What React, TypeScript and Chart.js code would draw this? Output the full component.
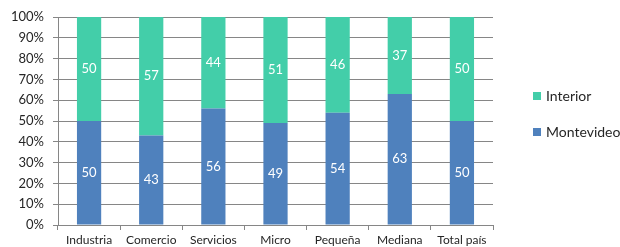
import React, { useEffect, useRef } from "react";
import { Chart, registerables } from "chart.js";

Chart.register(...registerables);

const categories = ["Industria", "Comercio", "Servicios", "Micro", "Pequeña", "Mediana", "Total país"];
const montevideo = [50, 43, 56, 49, 54, 63, 50];
const interior = [50, 57, 44, 51, 46, 37, 50];
const seriesNames = ["Montevideo", "Interior"];
const blue = "#4F81BD";
const green = "#43CEA9";
const FONT = "Lato, 'Open Sans', sans-serif";

const valueLabels = {
  id: "valueLabels",
  afterDatasetsDraw(chart: any) {
    const ctx = chart.ctx;
    ctx.save();
    ctx.fillStyle = "#ffffff";
    ctx.font = `13px ${FONT}`;
    ctx.textAlign = "center";
    ctx.textBaseline = "middle";
    chart.data.datasets.forEach((ds: any, di: number) => {
      const meta = chart.getDatasetMeta(di);
      meta.data.forEach((el: any, i: number) => {
        const p = el.getCenterPoint();
        ctx.fillText(String(ds.data[i]), p.x, p.y);
      });
    });
    ctx.restore();
  },
};

const customLegend = {
  id: "customLegend",
  afterDraw(chart: any) {
    const ctx = chart.ctx;
    const area = chart.chartArea;
    ctx.save();
    ctx.font = `14px ${FONT}`;
    ctx.textAlign = "left";
    ctx.textBaseline = "middle";
    const items = [...chart.data.datasets].reverse();
    const x0 = area.right + 40;
    const yMid = (area.top + area.bottom) / 2;
    const gap = 36;
    items.forEach((ds: any, k: number) => {
      const y = yMid - gap / 2 + k * gap - 7;
      ctx.fillStyle = ds.backgroundColor;
      ctx.fillRect(x0, y - 4, 8, 8);
      ctx.fillStyle = "#262626";
      ctx.fillText(ds.label, x0 + 13, y);
    });
    ctx.restore();
  },
};

export default function App() {
  const ref = useRef<HTMLCanvasElement>(null);
  useEffect(() => {
    const chart = new Chart(ref.current as HTMLCanvasElement, {
      type: "bar",
      data: {
        labels: categories,
        datasets: [
          { label: seriesNames[0], data: montevideo, backgroundColor: blue, categoryPercentage: 1, barPercentage: 0.39 },
          { label: seriesNames[1], data: interior, backgroundColor: green, categoryPercentage: 1, barPercentage: 0.39 },
        ],
      },
      options: {
        responsive: false,
        animation: false,
        layout: { padding: { top: 17, right: 127, left: 0, bottom: 0 } },
        plugins: { legend: { display: false }, tooltip: { enabled: false } },
        scales: {
          x: {
            stacked: true,
            grid: { drawOnChartArea: false, drawTicks: true, tickLength: 5, color: "#868686", offset: true },
            border: { color: "#868686" },
            ticks: { color: "#262626", font: { family: FONT, size: 12 }, padding: 3, maxRotation: 0, autoSkip: false },
            afterFit: (s: any) => { s.height = 22; },
          },
          y: {
            stacked: true,
            min: 0,
            max: 100,
            grid: { color: "#868686", tickLength: 5 },
            border: { color: "#868686" },
            ticks: {
              stepSize: 10,
              color: "#262626",
              font: { family: FONT, size: 13 },
              padding: 9,
              callback: (v: any) => v + "%",
            },
            afterFit: (s: any) => { s.width = 58; },
          },
        },
      },
      plugins: [valueLabels, customLegend],
    });
    return () => chart.destroy();
  }, []);
  return (
    <div style={{ position: "fixed", left: 0, top: 0, width: 620, height: 247, background: "#fff" }}>
      <canvas ref={ref} width={620} height={247} />
    </div>
  );
}
